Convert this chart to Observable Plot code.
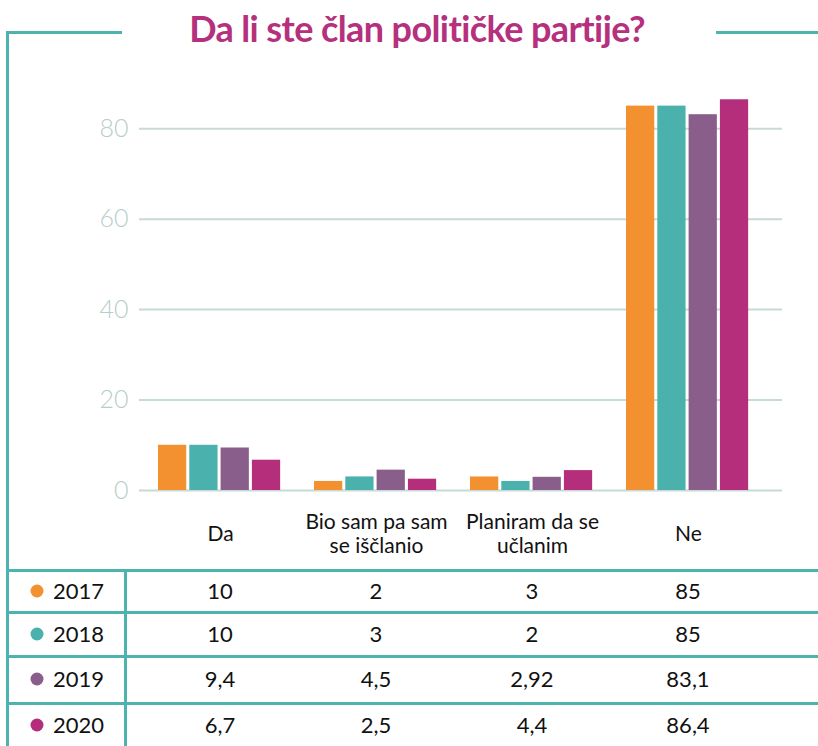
<!DOCTYPE html>
<html><head><meta charset="utf-8">
<script src="https://cdn.jsdelivr.net/npm/d3@7"></script>
<script src="https://cdn.jsdelivr.net/npm/@observablehq/plot@0.6"></script>
<style>
body{margin:0;background:#fff;}
#wrap{position:relative;width:818px;height:746px;overflow:hidden;font-family:Lato,"Liberation Sans",sans-serif;}
#wrap svg{position:absolute;left:0;top:0;}
.title{position:absolute;left:0;width:834px;top:6px;text-align:center;font-size:36px;font-weight:bold;color:#b5307d;letter-spacing:-0.6px;line-height:44px;}
.hl{position:absolute;height:3px;background:#4db3ae;}
.vl{position:absolute;width:3px;background:#4db3ae;}
.cell{position:absolute;font-size:22px;color:#111;transform:translate(-50%,-50%);white-space:nowrap;line-height:1;}
.yr{position:absolute;font-size:22px;color:#111;transform:translateY(-50%);line-height:1;}
.dot{position:absolute;width:13px;height:13px;border-radius:50%;transform:translate(-50%,-50%);}
</style></head><body><div id="wrap"></div>
<script>
const categories = ["Da", "Bio sam pa sam se iščlanio", "Planiram da se učlanim", "Ne"];
const categoryLabels = ["Da", "Bio sam pa sam\nse iščlanio", "Planiram da se\nučlanim", "Ne"];
const years = ["2017", "2018", "2019", "2020"];
const colors = ["#f39130", "#4ab1ad", "#8a5e8a", "#b52e7c"];
const values2017 = [10, 2, 3, 85];
const values2018 = [10, 3, 2, 85];
const values2019 = [9.4, 4.5, 2.92, 83.1];
const values2020 = [6.7, 2.5, 4.4, 86.4];
const yTicks = [0, 20, 40, 60, 80];

const series = [values2017, values2018, values2019, values2020];
const rows = [];
years.forEach((yr, i) => categories.forEach((c, j) => rows.push({year: yr, category: c, value: series[i][j]})));

const wrap = document.getElementById("wrap");
const bandW = 627 / 4;
const barMarks = years.map((yr, i) => {
  const left = 16 + i * 31.3;
  return Plot.barY(rows.filter(r => r.year === yr), {
    x: "category", y: "value", fill: colors[i],
    insetLeft: left, insetRight: bandW - left - 29
  });
});

const chart = Plot.plot({
  width: 818,
  height: 560,
  marginLeft: 140,
  marginRight: 51,
  marginTop: 83,
  marginBottom: 70,
  style: {fontFamily: "Lato, 'Liberation Sans', sans-serif", background: "transparent"},
  x: {domain: categories, padding: 0, axis: null},
  y: {domain: [0, 90], axis: null},
  marks: [
    Plot.ruleY(yTicks, {stroke: "#c8d9d6", strokeWidth: 2, insetLeft: -1, insetRight: -15}),
    Plot.axisY({ticks: yTicks, tickSize: 0, tickPadding: 12, fontSize: 25, fill: "#b7cdca", fontWeight: 300, label: null}),
    ...barMarks,
    Plot.text(categories, {x: d => d, text: (d, i) => categoryLabels[i], frameAnchor: "bottom", dy: 43,
      lineAnchor: "middle", lineHeight: 1.15, fontSize: 21, fill: "#111"})
  ]
});
wrap.appendChild(chart);

const t = document.createElement("div");
t.className = "title";
t.textContent = "Da li ste član političke partije?";
wrap.appendChild(t);

function add(cls, style) { const d = document.createElement("div"); d.className = cls; Object.assign(d.style, style); wrap.appendChild(d); return d; }
// frame
add("hl", {left: "6px", top: "31px", width: "116px"});
add("hl", {left: "716px", top: "31px", width: "102px"});
add("vl", {left: "6px", top: "31px", height: "715px"});
// table
const lineYs = [569, 611, 655, 702];
lineYs.forEach(y => add("hl", {left: "6px", top: y + "px", width: "812px"}));
add("vl", {left: "124px", top: "569px", height: "177px"});
const rowYs = [591, 634, 679, 725];
const xScale = chart.scale("x");
years.forEach((yr, i) => {
  add("dot", {left: "37px", top: rowYs[i] + "px", background: colors[i]});
  const y = add("yr", {left: "53px", top: rowYs[i] + "px"}); y.textContent = yr;
  categories.forEach((c, j) => {
    const cx = xScale.apply(c) + xScale.bandwidth / 2;
    const d = add("cell", {left: cx + "px", top: rowYs[i] + "px"});
    d.textContent = String(series[i][j]).replace(".", ",");
  });
});
</script>
</body></html>
